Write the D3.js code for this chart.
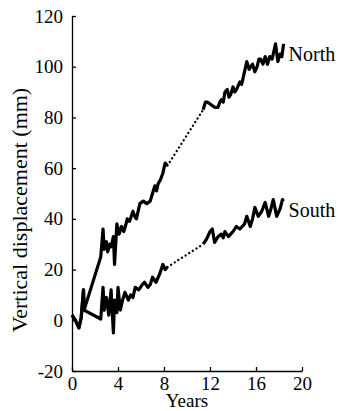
<!DOCTYPE html>
<html>
<head>
<meta charset="utf-8">
<script src="https://cdn.jsdelivr.net/npm/d3@7.9.0/dist/d3.min.js"></script>
<style>
  body { margin: 0; background: #fff; }
  svg text { font-family: "Liberation Serif", "Times New Roman", serif; fill: #000; }
</style>
</head>
<body>
<svg id="chart" width="338" height="411"></svg>
<script>
// shared start of both records (years, mm)
const startYears = [0, 0.3, 0.6, 0.8, 1.0, 1.05];
const startVals  = [2, 0, -3, 1, 12, 4];

// North record, first measured period
const northYears1 = [2.5, 2.7, 2.8, 3.0, 3.1, 3.3, 3.4, 3.6, 3.7, 3.9, 4.1, 4.3, 4.5, 4.7, 4.8, 5.0, 5.3, 5.45, 5.6, 5.9, 6.2, 6.5, 6.8, 7.0, 7.2, 7.35, 7.5, 7.7, 7.9, 8.1, 8.3];
const northVals1  = [25, 36, 28, 31, 27, 30, 29, 33, 22, 38, 34, 37, 35, 38, 40, 39, 43, 41, 40, 46, 47, 46, 47, 50, 53, 51, 54, 55.5, 58, 62, 61];
// North record, second measured period
const northYears2 = [11.4, 11.6, 11.8, 12.1, 12.4, 12.7, 12.85, 13.0, 13.15, 13.3, 13.5, 13.65, 13.8, 14.0, 14.15, 14.3, 14.6, 14.75, 14.9, 15.2, 15.4, 15.55, 15.7, 15.9, 16.1, 16.25, 16.4, 16.6, 16.8, 17.0, 17.2, 17.4, 17.55, 17.7, 17.9, 18.1, 18.25, 18.4];
const northVals2  = [83, 86, 86, 85, 84, 84, 86, 87, 86, 90, 91, 88, 89, 92, 90, 91, 94, 93, 96, 102, 99, 100, 101, 98, 100, 103, 103, 101, 104, 101, 104, 103, 106, 109, 102, 105, 104, 109];

// South record
const southYears1 = [2.5, 2.7, 2.8, 3.0, 3.2, 3.4, 3.6, 3.7, 3.9, 4.0, 4.2, 4.4, 4.6, 4.9, 5.1, 5.3, 5.5, 5.8, 6.1, 6.3, 6.6, 6.8, 7.0, 7.3, 7.6, 7.9, 8.1, 8.3];
const southVals1  = [0.5, 13, 4, 9, 2, 12, -5, 8, 3, 13, 4, 8, 11, 8, 10, 9, 13, 12, 14, 15, 13, 14, 17, 15, 18, 22, 20, 21];
const southYears2 = [11.4, 11.7, 12.0, 12.2, 12.4, 12.7, 13.0, 13.15, 13.3, 13.6, 13.8, 14.0, 14.3, 14.6, 14.8, 15.0, 15.2, 15.5, 15.7, 15.9, 16.2, 16.5, 16.8, 17.1, 17.3, 17.5, 17.8, 18.1, 18.3, 18.4];
const southVals2  = [30, 32, 35, 36, 30.7, 33, 34, 32.5, 35, 33, 34, 35, 37, 36, 37, 38, 41, 37, 40, 44.5, 41, 43, 46.5, 41, 44, 47.6, 41, 44, 47.6, 47];

const xTicks = [0, 4, 8, 12, 16, 20];
const yTicks = [-20, 0, 20, 40, 60, 80, 100, 120];

const svg = d3.select('#chart');

const x = d3.scaleLinear().domain([0, 20]).range([72, 302]);
const y = d3.scaleLinear().domain([-20, 120]).range([371, 16]);

const zip = (xs, vs) => xs.map((d, i) => [d, vs[i]]);
const line = d3.line().x(d => x(d[0])).y(d => y(d[1]));

const series = [
  { name: 'North', a: zip(startYears, startVals).concat(zip(northYears1, northVals1)), b: zip(northYears2, northVals2) },
  { name: 'South', a: zip(startYears, startVals).concat(zip(southYears1, southVals1)), b: zip(southYears2, southVals2) }
];

// axes, ticks pointing inward; plain hyphen for negatives like the original
const xAxis = d3.axisBottom(x).tickValues(xTicks).tickSizeInner(-4).tickSizeOuter(0).tickPadding(6).tickFormat(d => String(d));
const yAxis = d3.axisLeft(y).tickValues(yTicks).tickSizeInner(-4).tickSizeOuter(0).tickPadding(9).tickFormat(d => String(d));

const gx = svg.append('g').attr('transform', 'translate(0,371)').call(xAxis);
const gy = svg.append('g').attr('transform', 'translate(72,0)').call(yAxis);
[gx, gy].forEach(g => {
  g.selectAll('path, line').attr('stroke', '#000').attr('stroke-width', 1.3);
  g.selectAll('text').style('font-size', '19px').attr('fill', '#000');
});

svg.append('text')
  .attr('transform', 'translate(27,210) rotate(-90)')
  .attr('text-anchor', 'middle')
  .style('font-size', '22px')
  .text('Vertical displacement (mm)');

svg.append('text')
  .attr('x', 187).attr('y', 407)
  .attr('text-anchor', 'middle')
  .style('font-size', '19px')
  .text('Years');

// solid measured parts
series.forEach(s => {
  [s.a, s.b].forEach(seg => {
    svg.append('path')
      .attr('d', line(seg))
      .attr('fill', 'none')
      .attr('stroke', '#000')
      .attr('stroke-width', 3.2)
      .attr('stroke-linejoin', 'round');
  });
  // dotted gap between the two periods
  svg.append('path')
    .attr('d', line([s.a[s.a.length - 1], s.b[0]]))
    .attr('fill', 'none')
    .attr('stroke', '#000')
    .attr('stroke-width', 2.3)
    .attr('stroke-linecap', 'round')
    .attr('stroke-dasharray', '0.1 4.2');

  const last = s.b[s.b.length - 1];
  svg.append('text')
    .attr('x', x(last[0]) + 5)
    .attr('y', s.name === 'North' ? 61 : 217)
    .style('font-size', '20px')
    .text(s.name);
});
</script>
</body>
</html>
